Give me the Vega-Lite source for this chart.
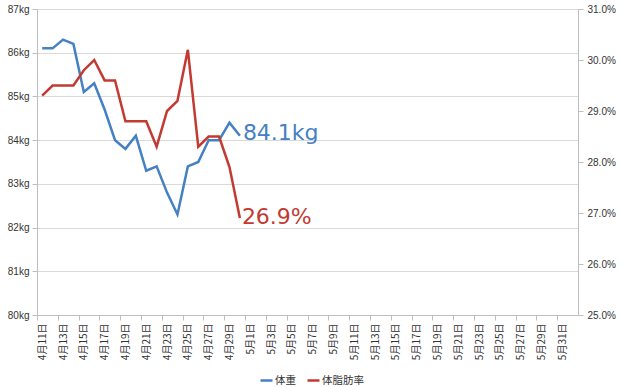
{
  "$schema": "https://vega.github.io/schema/vega-lite/v6.json",
  "autosize": {"type": "none"},
  "padding": {"left": 37, "top": 9, "right": 42, "bottom": 72},
  "width": 541,
  "height": 306,
  "background": "white",
  "config": {
    "view": {"stroke": null},
    "axis": {"labelColor": "#333333", "domainColor": "#bfbfbf", "tickColor": "#bfbfbf", "gridColor": "#d9d9d9", "title": null}
  },
  "data": {
    "values": [
      {"date": "2013-04-11", "weight": 86.1, "fat": 29.3},
      {"date": "2013-04-12", "weight": 86.1, "fat": 29.5},
      {"date": "2013-04-13", "weight": 86.3, "fat": 29.5},
      {"date": "2013-04-14", "weight": 86.2, "fat": 29.5},
      {"date": "2013-04-15", "weight": 85.1, "fat": 29.8},
      {"date": "2013-04-16", "weight": 85.3, "fat": 30.0},
      {"date": "2013-04-17", "weight": 84.7, "fat": 29.6},
      {"date": "2013-04-18", "weight": 84.0, "fat": 29.6},
      {"date": "2013-04-19", "weight": 83.8, "fat": 28.8},
      {"date": "2013-04-20", "weight": 84.1, "fat": 28.8},
      {"date": "2013-04-21", "weight": 83.3, "fat": 28.8},
      {"date": "2013-04-22", "weight": 83.4, "fat": 28.3},
      {"date": "2013-04-23", "weight": 82.8, "fat": 29.0},
      {"date": "2013-04-24", "weight": 82.3, "fat": 29.2},
      {"date": "2013-04-25", "weight": 83.4, "fat": 30.2},
      {"date": "2013-04-26", "weight": 83.5, "fat": 28.3},
      {"date": "2013-04-27", "weight": 84.0, "fat": 28.5},
      {"date": "2013-04-28", "weight": 84.0, "fat": 28.5},
      {"date": "2013-04-29", "weight": 84.4, "fat": 27.9},
      {"date": "2013-04-30", "weight": 84.1, "fat": 26.9, "wlabel": "84.1kg", "flabel": "26.9%"}
    ]
  },
  "encoding": {
    "x": {
      "field": "date",
      "type": "temporal",
      "scale": {
        "type": "utc",
        "domain": [
          {"year": 2013, "month": 4, "date": 10, "hours": 12, "utc": true},
          {"year": 2013, "month": 6, "date": 1, "hours": 12, "utc": true}
        ]
      },
      "axis": {
        "values": [
          {"year": 2013, "month": 4, "date": 11, "utc": true},
          {"year": 2013, "month": 4, "date": 13, "utc": true},
          {"year": 2013, "month": 4, "date": 15, "utc": true},
          {"year": 2013, "month": 4, "date": 17, "utc": true},
          {"year": 2013, "month": 4, "date": 19, "utc": true},
          {"year": 2013, "month": 4, "date": 21, "utc": true},
          {"year": 2013, "month": 4, "date": 23, "utc": true},
          {"year": 2013, "month": 4, "date": 25, "utc": true},
          {"year": 2013, "month": 4, "date": 27, "utc": true},
          {"year": 2013, "month": 4, "date": 29, "utc": true},
          {"year": 2013, "month": 5, "date": 1, "utc": true},
          {"year": 2013, "month": 5, "date": 3, "utc": true},
          {"year": 2013, "month": 5, "date": 5, "utc": true},
          {"year": 2013, "month": 5, "date": 7, "utc": true},
          {"year": 2013, "month": 5, "date": 9, "utc": true},
          {"year": 2013, "month": 5, "date": 11, "utc": true},
          {"year": 2013, "month": 5, "date": 13, "utc": true},
          {"year": 2013, "month": 5, "date": 15, "utc": true},
          {"year": 2013, "month": 5, "date": 17, "utc": true},
          {"year": 2013, "month": 5, "date": 19, "utc": true},
          {"year": 2013, "month": 5, "date": 21, "utc": true},
          {"year": 2013, "month": 5, "date": 23, "utc": true},
          {"year": 2013, "month": 5, "date": 25, "utc": true},
          {"year": 2013, "month": 5, "date": 27, "utc": true},
          {"year": 2013, "month": 5, "date": 29, "utc": true},
          {"year": 2013, "month": 5, "date": 31, "utc": true},
          {"year": 2013, "month": 6, "date": 2, "utc": true}
        ],
        "labelExpr": "utcmonth(datum.value) == 5 ? '' : utcFormat(datum.value, '%-m月%-d日')",
        "labelAngle": -90,
        "labelFont": "Noto Sans CJK JP",
        "labelFontSize": 10,
        "labelFlush": false,
        "labelOverlap": false,
        "labelPadding": 3,
        "tickSize": 5,
        "tickOffset": -5.2,
        "labelOffset": 5.2,
        "grid": false
      }
    }
  },
  "layer": [
    {
      "encoding": {
        "y": {
          "field": "weight",
          "type": "quantitative",
          "scale": {"domain": [80, 87], "nice": false, "zero": false},
          "axis": {
            "orient": "left",
            "values": [80, 81, 82, 83, 84, 85, 86, 87],
            "labelExpr": "datum.value + 'kg'",
            "labelFont": "Liberation Sans",
            "labelFontSize": 10,
            "tickSize": 5,
            "labelPadding": 3,
            "grid": true
          }
        }
      },
      "layer": [
        {
          "mark": {"type": "line", "strokeWidth": 2.5},
          "encoding": {
            "color": {
              "datum": "体重",
              "scale": {"domain": ["体重", "体脂肪率"], "range": ["#4580c3", "#c33a32"]},
              "legend": {
                "orient": "none",
                "legendX": 222,
                "legendY": 364,
                "direction": "horizontal",
                "title": null,
                "symbolType": "stroke",
                "symbolSize": 144,
                "symbolStrokeWidth": 2.5,
                "labelFont": "Noto Sans CJK JP",
                "labelFontSize": 10.5,
                "labelColor": "#333333",
                "labelOffset": 1,
                "columnPadding": 6
              }
            }
          }
        },
        {
          "transform": [{"filter": "datum.wlabel"}],
          "mark": {"type": "text", "align": "left", "baseline": "alphabetic", "dx": 3, "dy": 4, "font": "DejaVu Sans", "fontSize": 22, "color": "#4580c3"},
          "encoding": {"text": {"field": "wlabel"}}
        }
      ]
    },
    {
      "encoding": {
        "y": {
          "field": "fat",
          "type": "quantitative",
          "scale": {"domain": [25, 31], "nice": false, "zero": false},
          "axis": {
            "orient": "right",
            "values": [25, 26, 27, 28, 29, 30, 31],
            "labelExpr": "format(datum.value, '.1f') + '%'",
            "labelFont": "Liberation Sans",
            "labelFontSize": 10,
            "tickSize": 5,
            "labelPadding": 4,
            "grid": false
          }
        }
      },
      "layer": [
        {
          "mark": {"type": "line", "strokeWidth": 2.5},
          "encoding": {"color": {"datum": "体脂肪率"}}
        },
        {
          "transform": [{"filter": "datum.flabel"}],
          "mark": {"type": "text", "align": "left", "baseline": "alphabetic", "dx": 2, "dy": 6, "font": "DejaVu Sans", "fontSize": 22, "color": "#c33a32"},
          "encoding": {"text": {"field": "flabel"}}
        }
      ]
    }
  ],
  "resolve": {"scale": {"y": "independent"}}
}
